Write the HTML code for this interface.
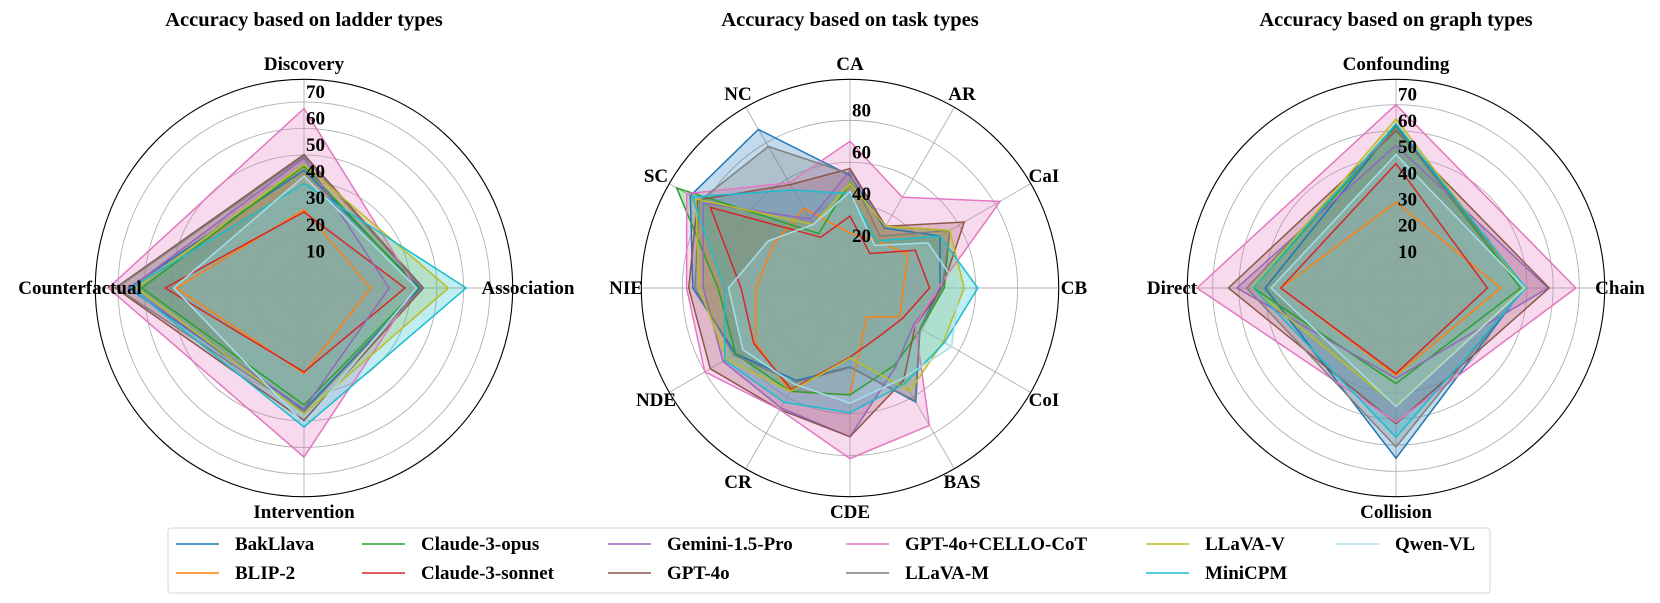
<!DOCTYPE html>
<html><head><meta charset="utf-8"><style>
html,body{margin:0;padding:0;background:#fff;}
svg{display:block;font-family:"Liberation Serif","Times New Roman",serif;font-weight:bold;}
</style></head><body>
<svg id="fig" width="1660" height="603" viewBox="0 0 1660 603" xmlns="http://www.w3.org/2000/svg"></svg>
<script>
const models = ["BakLlava","BLIP-2","Claude-3-opus","Claude-3-sonnet","Gemini-1.5-Pro","GPT-4o","GPT-4o+CELLO-CoT","LLaVA-M","LLaVA-V","MiniCPM","Qwen-VL"];
const colors = ["#1f77b4","#ff7f0e","#2ca02c","#d62728","#9467bd","#8c564b","#e377c2","#7f7f7f","#bcbd22","#17becf","#a6dfea"];

const ladderAxes = ["Discovery","Association","Intervention","Counterfactual"];
const ladderTicks = [10,20,30,40,50,60,70];
const ladderValues = [
 [44.3,43.7,45.8,66],[29.5,25,32.2,48],[45.8,43,44,61],[28.6,38,31.6,52.3],
 [48.9,32,45.5,65.5],[50.2,44.9,49.8,71],[67.5,42,63.6,73.6],[49.5,44.3,46.5,70.5],
 [46.4,54.3,47.3,63],[39.3,61,52.3,65],[42,42.4,51,49]
];

const taskAxes = ["CA","AR","CaI","CB","CoI","BAS","CDE","CR","NDE","NIE","SC","NC"];
const taskTicks = [20,40,60,80];
const taskValues = [
 [53.7,33,49.6,43,38.6,62.8,37.7,51,63,75,88,87.4],
 [26.2,26,32,25.4,27.5,16,51,57,52,45,42,44],
 [50.5,34,55,45,39,42.6,51,57,63,63,95.5,30],
 [34.3,19,36,38,29,27,33,56,53,52,77,28],
 [56,34,55,44,35,43.5,71,66,70,70,81,38],
 [57,34,63,44,36,51,71,67,77,77,84,57],
 [70,50,82.7,42,36,75.7,81.4,67,80,78,90,58],
 [54.5,28.6,55,44,38.6,62,38,52,64,74,83,78],
 [50,34,55,54.5,51.4,57,33.4,57,68,72,85,35],
 [45,26,49.6,61,52,52.6,59.5,63,69,60,87,54],
 [46,23.5,43,52,56,50,55,53,59,58,45,35]
];

const graphAxes = ["Confounding","Chain","Collision","Direct"];
const graphTicks = [10,20,30,40,50,60,70];
const graphValues = [
 [62,48.9,65,50],[32.8,40,33.3,44],[61.5,47.6,36.5,54.5],[47.5,34.9,32.7,44],
 [54.5,58,34.5,60.8],[60,58.5,51.8,64],[70,68.7,51.2,76],[61,49,60.7,57],
 [64.6,48.9,45,55],[62.7,49.6,57,54.5],[51,49.2,45.2,47.7]
];

const NS="http://www.w3.org/2000/svg";
const svg=document.getElementById('fig');
function mk(tag,attrs,parent){const e=document.createElementNS(NS,tag);for(const k in attrs)e.setAttribute(k,attrs[k]);(parent||svg).appendChild(e);return e;}

function radar(cx,title,axes,ticks,values,rmax,key){
  const R=208.7;
  const g=mk('g',{});
  
  
  const cy=288;
  const scale=v=>v/rmax*R;
  const ang=i=>i*2*Math.PI/axes.length;
  const pt=(v,i)=>[cx+scale(v)*Math.sin(ang(i)), cy-scale(v)*Math.cos(ang(i))];
  const t=mk('text',{x:cx,y:26,'text-anchor':'middle','font-size':'20.5'},g);
  t.textContent=title;
  
  
  ticks.forEach(tv=>{
    const c=mk('circle',{cx:cx,cy:cy,r:scale(tv),fill:'none',stroke:'#b0b0b0','stroke-width':'0.9'},g);
    
    
  });
  axes.forEach((a,i)=>{
    const p=pt(rmax,i);
    const l=mk('line',{x1:cx,y1:cy,x2:p[0],y2:p[1],stroke:'#b0b0b0','stroke-width':'0.9'},g);
    
    
  });
  const ptsList=values.map(vals=>vals.map((v,i)=>pt(v,i).map(n=>n.toFixed(1)).join(',')).join(' '));
  values.forEach((vals,s)=>{
    const p=mk('polygon',{points:ptsList[s],fill:colors[s],'fill-opacity':'0.27',stroke:'none'},g);
    
    
  });
  values.forEach((vals,s)=>{
    const p=mk('polygon',{points:ptsList[s],fill:'none',stroke:colors[s],'stroke-width':'1.5','stroke-linejoin':'miter'},g);
    
    
  });
  const oc=mk('circle',{cx:cx,cy:cy,r:R,fill:'none',stroke:'#000','stroke-width':'1.1'},g);
  
  
  ticks.forEach(tv=>{
    const tx=mk('text',{x:cx+2,y:cy-scale(tv)-4,'font-size':'19'},g);
    tx.textContent=tv;
    
    
  });
  axes.forEach((a,i)=>{
    const lx=cx+224*Math.sin(ang(i)), ly=cy-224*Math.cos(ang(i));
    const tx=mk('text',{x:lx,y:ly+6,'text-anchor':'middle','font-size':'19'},g);
    tx.textContent=a;
    
    
  });
}
radar(304,"Accuracy based on ladder types",ladderAxes,ladderTicks,ladderValues,78.5,'ladder');
radar(850,"Accuracy based on task types",taskAxes,taskTicks,taskValues,99.6,'task');
radar(1396,"Accuracy based on graph types",graphAxes,graphTicks,graphValues,79.7,'graph');

// legend
const lg=mk('g',{});


const box=mk('rect',{x:168,y:528,width:1322,height:65,rx:3,fill:'#fff',stroke:'#d6d6d6','stroke-width':'1'},lg);


const colLine=[176,362,608,846,1146,1336];
const rowY=[544,573];
models.forEach((m,i)=>{
  const c=Math.floor(i/2), r=i%2;
  const e=mk('g',{},lg);
  
  
  mk('line',{x1:colLine[c],y1:rowY[r],x2:colLine[c]+43,y2:rowY[r],stroke:colors[i],'stroke-width':'1.6'},e);
  const t=mk('text',{x:colLine[c]+59,y:rowY[r]+6,'font-size':'19'},e);
  t.textContent=m;
});
</script>
</body></html>
